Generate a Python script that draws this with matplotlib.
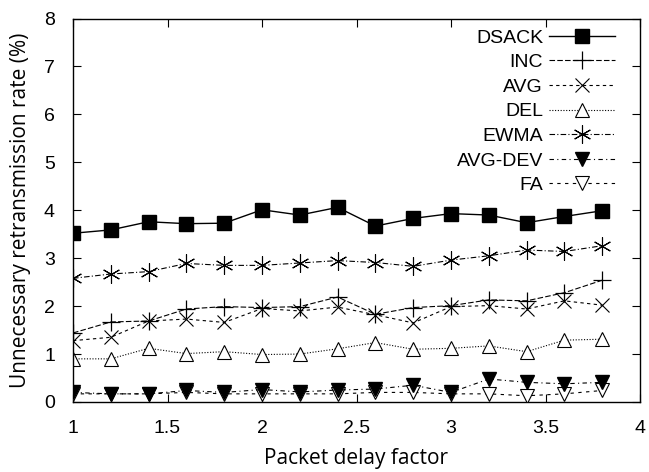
import matplotlib
matplotlib.use('Agg')
import matplotlib.pyplot as plt

delay = [1.0, 1.2, 1.4, 1.6, 1.8, 2.0, 2.2, 2.4, 2.6, 2.8, 3.0, 3.2, 3.4, 3.6, 3.8]

dsack = [3.52, 3.59, 3.76, 3.72, 3.73, 4.01, 3.90, 4.06, 3.67, 3.83, 3.93, 3.90, 3.74, 3.87, 3.99]
inc = [1.44, 1.67, 1.69, 1.94, 1.99, 1.97, 1.99, 2.19, 1.83, 1.97, 2.01, 2.13, 2.11, 2.28, 2.54]
avg = [1.28, 1.35, 1.69, 1.73, 1.66, 1.95, 1.90, 1.98, 1.82, 1.65, 1.99, 2.01, 1.94, 2.11, 2.02]
dele = [0.90, 0.90, 1.12, 1.01, 1.05, 0.99, 1.00, 1.11, 1.24, 1.10, 1.12, 1.17, 1.05, 1.29, 1.31]
ewma = [2.58, 2.67, 2.72, 2.89, 2.85, 2.85, 2.90, 2.95, 2.91, 2.83, 2.96, 3.05, 3.17, 3.14, 3.26]
avg_dev = [0.20, 0.17, 0.17, 0.24, 0.20, 0.26, 0.21, 0.25, 0.27, 0.35, 0.20, 0.48, 0.41, 0.38, 0.41]
fa = [0.17, 0.17, 0.17, 0.20, 0.17, 0.17, 0.17, 0.17, 0.20, 0.20, 0.17, 0.17, 0.13, 0.17, 0.24]

plt.rcParams['font.family'] = ['Liberation Sans', 'DejaVu Sans']

fig = plt.figure(figsize=(6.49, 4.72), dpi=100)
ax = fig.add_axes([73 / 649, 1 - 402 / 472, 567 / 649, (402 - 18.5) / 472])

lw = 0.8
ax.plot(delay, dsack, color='black', lw=1.0, ls='-', marker='s', ms=10,
        mfc='black', mec='black', label='DSACK', zorder=5)
ax.plot(delay, inc, color='black', lw=lw, ls=(0, (5, 2)), marker='+', ms=13,
        mew=0.9, label='INC')
ax.plot(delay, avg, color='black', lw=lw, ls=(0, (3, 3)), marker='x', ms=10,
        mew=0.8, label='AVG')
ax.plot(delay, dele, color='black', lw=lw, ls=(0, (1, 1.5)), marker='^', ms=10,
        mfc='white', mec='black', mew=0.8, label='DEL')
ax.plot(delay, ewma, color='black', lw=lw, ls=(0, (5, 2, 1, 2)), marker=(6, 2, 0), ms=13,
        mew=0.8, label='EWMA')
ax.plot(delay, avg_dev, color='black', lw=lw, ls=(0, (4, 3, 1, 3)), marker='v', ms=10,
        mfc='black', mec='black', label='AVG-DEV', zorder=4)
ax.plot(delay, fa, color='black', lw=lw, ls=(0, (3, 4)), marker='v', ms=10,
        mfc='white', mec='black', mew=0.8, label='FA', zorder=3)

ax.set_xlim(1, 4)
ax.set_ylim(0, 8)
ax.set_xticks([1, 1.5, 2, 2.5, 3, 3.5, 4])
ax.set_xticklabels(['1', '1.5', '2', '2.5', '3', '3.5', '4'])
ax.set_yticks(range(0, 9))
ax.tick_params(direction='in', top=True, right=True, length=6, width=0.8,
               labelsize=14)
ax.tick_params(axis='x', pad=13)
ax.tick_params(axis='y', pad=13)
for s in ax.spines.values():
    s.set_linewidth(1.0)

ax.set_xlabel('Packet delay factor', fontsize=15, family='Open Sans', labelpad=8)
ax.set_ylabel('Unnecessary retransmission rate (%)', fontsize=15,
              family='Open Sans', labelpad=9)

leg = fig.legend(loc='upper right', bbox_to_anchor=(615 / 649, 1 - 29 / 472),
                 frameon=False, markerfirst=False, fontsize=14, handlelength=3.4,
                 handletextpad=0.3, labelspacing=0.36, borderpad=0, borderaxespad=0)

fig.savefig('out.png', dpi=100)
